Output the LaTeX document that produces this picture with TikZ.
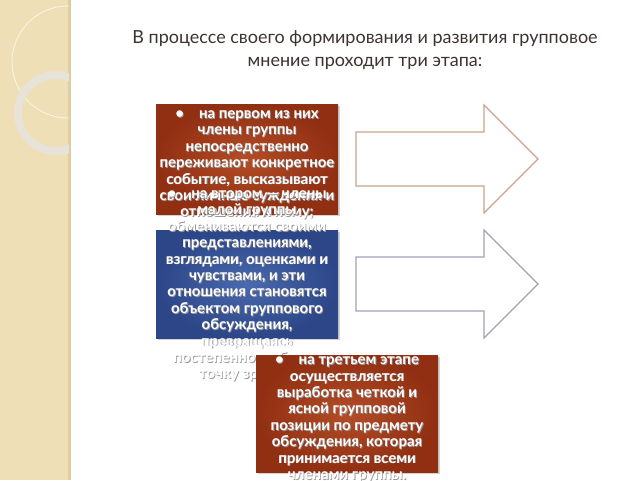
\documentclass[tikz,border=0pt]{standalone}
\usepackage{fontspec}
\setmainfont{Lato}
\usetikzlibrary{shadows}
\definecolor{strip}{HTML}{EEDFB6}
\definecolor{stripedge}{HTML}{DDCDA2}
\definecolor{ringc}{HTML}{E8E3D8}
\definecolor{titlec}{HTML}{3E3330}
\definecolor{redin}{HTML}{B34D27}
\definecolor{redout}{HTML}{912F12}
\definecolor{bluein}{HTML}{4A69AE}
\definecolor{blueout}{HTML}{2C4688}
\definecolor{arrowa}{HTML}{C9A38E}
\definecolor{arrowb}{HTML}{A2A2B4}
\tikzset{
  boxbase/.style={inner sep=0pt, drop shadow={opacity=0.35, shadow xshift=1.5pt, shadow yshift=-2pt}},
  redbox/.style={boxbase, shading=radial, inner color=redin, outer color=redout},
  bluebox/.style={boxbase, shading=radial, inner color=bluein, outer color=blueout},
  boxtext/.style={align=center, inner sep=0pt, text=white, font=\bfseries\fontsize{15}{16.4}\selectfont},
  boxshadow/.style={boxtext, text=black!40},
  titletext/.style={align=center, inner sep=0pt, text=titlec, font=\fontsize{18}{23}\selectfont},
  arrowline/.style={line width=1.1pt, line join=miter}
}
% #1 box node, #2 vertical shift, #3 text node name, #4 text
\newcommand{\boxtxt}[4]{%
  \node[boxshadow, xshift=0.8pt, yshift=#2-0.8pt] at (#1.center) {#4};
  \node[boxtext, yshift=#2] (#3) at (#1.center) {#4};}
\begin{document}
\begin{tikzpicture}[x=1pt,y=-1pt]
\useasboundingbox (0,0) rectangle (640,480);
\fill[white] (0,0) rectangle (640,480);
% left decorative strip
\fill[strip] (0,0) rectangle (70,480);
\fill[stripedge] (68,0) rectangle (71,480);
\begin{scope}
  \clip (0,0) rectangle (69,480);
  \fill[white, opacity=0.3] (0,0) -- (57,0) arc[start angle=0, end angle=-90, radius=57] -- cycle;
  \draw[white!70!strip, line width=0.8pt] (68,62) circle[radius=56];
  \draw[ringc, line width=8pt] (56,113) circle[radius=38];
\end{scope}
% title
\node[titletext] (title) at (365,50) {В процессе своего формирования и развития групповое\\мнение проходит три этапа:};
% arrows
\draw[arrowline, arrowa] (356,132) -- (484,132) -- (484,105) -- (538,159) -- (484,213) -- (484,186) -- (356,186) -- cycle;
\draw[arrowline, arrowb] (356,257) -- (484,257) -- (484,230) -- (538,284) -- (484,338) -- (484,311) -- (356,311) -- cycle;
% box 1
\node[redbox, minimum width=182pt, minimum height=110pt] (b1) at (247,159) {};
\boxtxt{b1}{-6pt}{t1}{•\quad на первом из них\\члены группы\\непосредственно\\переживают конкретное\\событие, высказывают\\свои личные суждения и\\отношения к нему;}
% box 2
\node[bluebox, minimum width=182pt, minimum height=108pt] (b2) at (247,284) {};
\boxtxt{b2}{-2pt}{t2}{•\quad на втором — члены\\малой группы\\обмениваются своими\\представлениями,\\взглядами, оценками и\\чувствами, и эти\\отношения становятся\\объектом группового\\обсуждения,\\превращаясь\\постепенно в общую\\точку зрения;}
% box 3
\node[redbox, minimum width=182pt, minimum height=117pt] (b3) at (347,413.5) {};
\boxtxt{b3}{-6pt}{t3}{•\quad на третьем этапе\\осуществляется\\выработка четкой и\\ясной групповой\\позиции по предмету\\обсуждения, которая\\принимается всеми\\членами группы.}
\end{tikzpicture}
\end{document}
